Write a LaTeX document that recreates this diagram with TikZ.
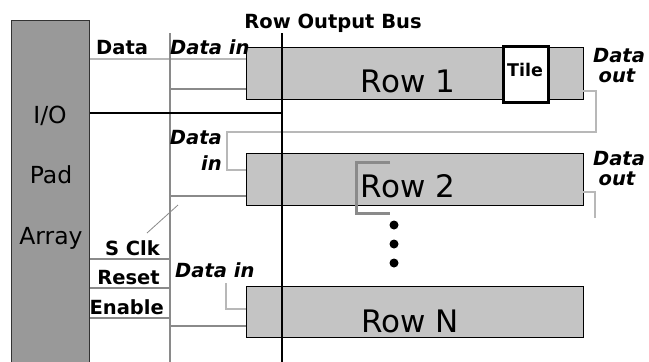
\documentclass[tikz,border=0pt]{standalone}
\usepackage{fontspec}
\setmainfont{DejaVu Sans}
\definecolor{padgray}{HTML}{999999}
\definecolor{rowgray}{HTML}{C4C4C4}
\definecolor{midgray}{HTML}{8A8A8A}
\definecolor{lightgray}{HTML}{B8B8B8}
\begin{document}
\begin{tikzpicture}[x=1pt,y=-1pt,
  padbox/.style={draw=black!80,line width=1.2pt,fill=padgray,inner sep=0,anchor=north west},
  rowbox/.style={draw=black,line width=1.3pt,fill=rowgray,inner sep=0,anchor=north west,minimum width=337pt},
  tilebox/.style={draw=black,line width=3pt,fill=white,inner sep=0,anchor=north west,minimum width=45pt,minimum height=56pt},
  bigtxt/.style={font=\fontsize{31}{34}\selectfont,inner sep=0,anchor=base},
  padtxt/.style={font=\fontsize{23.5}{26}\selectfont,inner sep=0,anchor=base},
  blbl/.style={font=\bfseries\fontsize{19.5}{21}\selectfont,inner sep=0},
  ilbl/.style={font=\bfseries\itshape\fontsize{19.5}{21}\selectfont,inner sep=0},
  gline/.style={draw=midgray,line width=2pt},
  lline/.style={draw=lightgray,line width=2pt},
  bline/.style={draw=black,line width=2pt},
  dotmark/.style={circle,fill=black,inner sep=0,minimum size=9pt}
]
\useasboundingbox (0,0) rectangle (649,362);
\clip (0,0) rectangle (649,362);
\fill[white] (0,0) rectangle (649,362);

% pad array
\node[padbox,minimum width=78pt,minimum height=350pt] (pad) at (11,20) {};
\node[padtxt] (io) at (50,123) {I/O};
\node[padtxt] (padl) at (51,183) {Pad};
\node[padtxt] (arr) at (51,244) {Array};

% vertical lines
\coordinate (gtop) at (170,33);
\coordinate (gbot) at (170,365);
\coordinate (btop) at (282,33);
\coordinate (bbot) at (282,365);

% rows
\node[rowbox,minimum height=52pt] (r1) at (246,47) {};
\node[rowbox,minimum height=52pt] (r2) at (246,153) {};
\node[rowbox,minimum height=51pt] (rN) at (246,286) {};

% input coordinates
\coordinate (r1in) at (246,59);
\coordinate (r1clk) at (246,89);
\coordinate (r2clk) at (246,196);
\coordinate (rNclk) at (246,326);
\coordinate (io1) at (282,113);

% lines from pad
\draw[lline] (pad.east |- r1in) -- (r1in);
\draw[gline] (gtop) -- (gbot);
\draw[gline] (gtop |- r1clk) -- (r1clk);
\draw[gline] (gtop |- r2clk) -- (r2clk);
\draw[gline] (gtop |- rNclk) -- (rNclk);
\coordinate (sclk) at (170,259);
\coordinate (rst) at (170,288);
\coordinate (ena) at (170,318);
\draw[gline] (pad.east |- sclk) -- (sclk);
\draw[gline] (pad.east |- rst) -- (rst);
\draw[gline] (pad.east |- ena) -- (ena);
\draw[bline] (pad.east |- io1) -- (io1);

% data out 1 -> data in 2
\coordinate (r1out) at (583,91);
\coordinate (r2in) at (246,170);
\draw[lline] (r1out) -- (596,91) -- (596,132) -- (227,132) -- (227,170) -- (r2in);
% data out 2
\coordinate (r2out) at (583,192);
\draw[lline] (r2out) -- (595,192) -- (595,218);
% data in N
\coordinate (rNin) at (246,309);
\draw[lline] (226,283) -- (226,309) -- (rNin);

% tile
\node[tilebox] (tile) at (502,45) {};
\node[blbl,font=\bfseries\fontsize{17.5}{19}\selectfont,anchor=base] (tilel) at (525,76) {Tile};

% bus (drawn over rows)
\draw[bline] (btop) -- (bbot);

% row texts
\node[bigtxt] (r1t) at (408,92) {Row 1};
\node[bigtxt] (r2t) at (408,197) {Row 2};
\node[bigtxt] (rNt) at (410,332) {Row N};

% bracket
\draw[draw=midgray,line width=3pt] (390,162) -- (356,162) -- (356,213) -- (390,213);

% dots
\node[dotmark] (d1) at (394,225) {};
\node[dotmark] (d2) at (394,244) {};
\node[dotmark] (d3) at (394,263) {};

% labels
\node[blbl,anchor=base] (busl) at (333,28) {Row Output Bus};
\node[blbl,anchor=base west] (datal) at (96,54) {Data};
\node[ilbl,anchor=base west] (din1) at (170,54) {Data in};
\node[ilbl,anchor=base east] (din2a) at (222,144) {Data};
\node[ilbl,anchor=base east] (din2b) at (222,170) {in};
\node[ilbl,anchor=base west] (dinN) at (175,277) {Data in};
\node[ilbl,anchor=base] (do1a) at (619,62) {Data};
\node[ilbl,anchor=base] (do1b) at (617,82) {out};
\node[ilbl,anchor=base] (do2a) at (619,165) {Data};
\node[ilbl,anchor=base] (do2b) at (617,185) {out};
\node[blbl,anchor=base east] (sclkl) at (160,255) {S Clk};
\node[blbl,anchor=base east] (rstl) at (160,284) {Reset};
\node[blbl,anchor=base east] (enal) at (164,314) {Enable};

% pointer line
\draw[draw=midgray,line width=0.8pt] (147,233) -- (178,205);
\end{tikzpicture}
\end{document}
